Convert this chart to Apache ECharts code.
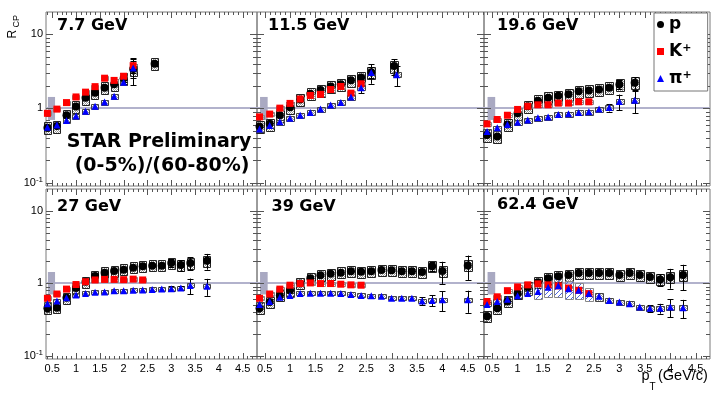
<!DOCTYPE html>
<html>
<head>
<meta charset="utf-8">
<script src="https://cdn.jsdelivr.net/npm/echarts@6.0.0/dist/echarts.min.js"></script>
<style>
html, body { margin: 0; padding: 0; background: #fff; }
#chart { width: 716px; height: 397px; }
</style>
</head>
<body>
<div id="chart"></div>
<script>
// pT bin centres (GeV/c)
var ptK = [0.4, 0.6, 0.8, 1.0, 1.2, 1.4, 1.6, 1.8, 2.0, 2.2, 2.4];
var pt77 = [0.4, 0.6, 0.8, 1.0, 1.2, 1.4, 1.6, 1.8, 2.0, 2.2];
var pt77P = [0.4, 0.6, 0.8, 1.0, 1.2, 1.4, 1.6, 1.8, 2.0, 2.2, 2.65];
var pt115P = [0.4, 0.6, 0.8, 1.0, 1.2, 1.4, 1.6, 1.8, 2.0, 2.2, 2.4, 2.6, 3.05];
var pt115Pi = [0.4, 0.6, 0.8, 1.0, 1.2, 1.4, 1.6, 1.8, 2.0, 2.2, 2.4, 2.6, 3.1];
var pt196 = [0.4, 0.6, 0.8, 1.0, 1.2, 1.4, 1.6, 1.8, 2.0, 2.2, 2.4, 2.6, 2.8, 3.0, 3.3];
var pt27 = [0.4, 0.6, 0.8, 1.0, 1.2, 1.4, 1.6, 1.8, 2.0, 2.2, 2.4, 2.6, 2.8, 3.0, 3.2, 3.4, 3.75];
var pt39 = [0.4, 0.6, 0.8, 1.0, 1.2, 1.4, 1.6, 1.8, 2.0, 2.2, 2.4, 2.6, 2.8, 3.0, 3.2, 3.4, 3.6, 3.8, 4.0, 4.5];
var pt624 = [0.4, 0.6, 0.8, 1.0, 1.2, 1.4, 1.6, 1.8, 2.0, 2.2, 2.4, 2.6, 2.8, 3.0, 3.2, 3.4, 3.6, 3.8, 4.0, 4.25];

// R_CP values and stat errors
var p77 = [0.55, 0.58, 0.81, 1.06, 1.39, 1.63, 1.91, 2.12, 2.55, 3.41, 4.02];
var p77Err = [0, 0, 0, 0, 0, 0, 0, 0, 0.3, 1.35, 0.3];
var k77 = [0.86, 0.98, 1.20, 1.43, 1.66, 1.97, 2.56, 2.39, 2.72, 3.78];
var k77Err = [0, 0, 0, 0, 0, 0, 0, 0, 0.2, 0.8];
var pi77 = [0.56, 0.60, 0.69, 0.79, 0.92, 1.07, 1.22, 1.46, 2.26, 3.5];
var pi77Err = [0, 0, 0, 0, 0, 0, 0, 0, 0.15, 0.9];

var p115 = [0.57, 0.62, 0.81, 1.04, 1.32, 1.58, 1.77, 1.98, 2.12, 2.40, 2.62, 3.08, 3.74];
var p115Err = [0, 0, 0, 0, 0, 0, 0, 0, 0, 0, 0.2, 0.5, 0.9];
var k115 = [0.77, 0.84, 1.01, 1.17, 1.34, 1.50, 1.55, 1.80, 1.98, 1.61, 2.15];
var k115Err = [0, 0, 0, 0, 0, 0, 0, 0, 0, 0, 0.15];
var pi115 = [0.53, 0.59, 0.66, 0.74, 0.81, 0.88, 0.98, 1.11, 1.20, 1.43, 1.91, 3.05, 2.86];
var pi115Err = [0, 0, 0, 0, 0, 0, 0, 0, 0, 0, 0.3, 0.9, 0.85];

var p196 = [0.44, 0.42, 0.61, 0.86, 1.07, 1.27, 1.40, 1.48, 1.56, 1.71, 1.75, 1.80, 1.91, 2.11, 2.22];
var p196Err = [0, 0, 0, 0, 0, 0, 0, 0, 0, 0, 0, 0, 0.15, 0.3, 0.42];
var k196 = [0.62, 0.71, 0.81, 0.97, 1.07, 1.12, 1.12, 1.18, 1.18, 1.23, 1.23];
var k196Err = [0, 0, 0, 0, 0, 0, 0, 0, 0, 0, 0];
var pi196 = [0.49, 0.55, 0.61, 0.65, 0.70, 0.75, 0.77, 0.83, 0.85, 0.88, 0.90, 0.98, 1.03, 1.24, 1.29];
var pi196Err = [0, 0, 0, 0, 0, 0, 0, 0, 0, 0, 0, 0, 0.12, 0.3, 0.43];

var p27 = [0.45, 0.46, 0.63, 0.86, 1.05, 1.26, 1.40, 1.48, 1.54, 1.64, 1.71, 1.75, 1.75, 1.90, 1.78, 1.90, 2.04];
var p27Err = [0, 0, 0, 0, 0, 0, 0, 0, 0, 0, 0, 0, 0, 0.25, 0.3, 0.4, 0.5];
var k27 = [0.62, 0.71, 0.83, 0.96, 1.05, 1.11, 1.13, 1.13, 1.12, 1.14, 1.11];
var k27Err = [0, 0, 0, 0, 0, 0, 0, 0, 0, 0, 0];
var pi27 = [0.52, 0.57, 0.63, 0.69, 0.72, 0.75, 0.76, 0.79, 0.79, 0.80, 0.81, 0.82, 0.83, 0.84, 0.86, 0.93, 0.91];
var pi27Err = [0, 0, 0, 0, 0, 0, 0, 0, 0, 0, 0, 0, 0, 0.07, 0.06, 0.23, 0.24];

var p39 = [0.45, 0.55, 0.68, 0.80, 0.99, 1.17, 1.29, 1.35, 1.40, 1.46, 1.44, 1.46, 1.52, 1.51, 1.46, 1.47, 1.43, 1.72, 1.48, 1.76];
var p39Err = [0, 0, 0, 0, 0, 0, 0, 0, 0, 0, 0, 0, 0, 0, 0, 0, 0.1, 0.25, 0.5, 0.65];
var k39 = [0.62, 0.71, 0.83, 0.94, 0.99, 1.01, 0.99, 0.99, 0.97, 0.95, 0.94];
var k39Err = [0, 0, 0, 0, 0, 0, 0, 0, 0, 0, 0];
var pi39 = [0.51, 0.56, 0.64, 0.68, 0.72, 0.73, 0.73, 0.73, 0.72, 0.70, 0.68, 0.67, 0.66, 0.62, 0.62, 0.62, 0.57, 0.58, 0.59, 0.59];
var pi39Err = [0, 0, 0, 0, 0, 0, 0, 0, 0, 0, 0, 0, 0, 0, 0, 0, 0.07, 0.1, 0.18, 0.2];

var p624 = [0.35, 0.45, 0.56, 0.72, 0.88, 1.03, 1.17, 1.25, 1.30, 1.38, 1.38, 1.38, 1.39, 1.30, 1.38, 1.30, 1.22, 1.13, 1.21, 1.30];
var p624Err = [0, 0, 0, 0, 0, 0, 0, 0, 0, 0, 0, 0, 0, 0, 0, 0, 0, 0.2, 0.37, 0.5];
var k624 = [0.56, 0.65, 0.79, 0.89, 0.95, 0.98, 0.95, 0.92, 0.86, 0.80, 0.72];
var k624Err = [0, 0, 0, 0, 0, 0, 0, 0, 0, 0, 0];
var pi624 = [0.51, 0.56, 0.60, 0.67, 0.72, 0.77, 0.88, 0.92, 0.84, 0.80, 0.72, 0.66, 0.58, 0.55, 0.52, 0.47, 0.45, 0.45, 0.47, 0.46];
var pi624Err = [0, 0, 0, 0, 0, 0, 0, 0, 0, 0, 0, 0, 0, 0, 0, 0, 0.05, 0.07, 0.13, 0.13];
var pi624Sys = [0.07, 0.07, 0.07, 0.07, 0.07, 0.2, 0.27, 0.3, 0.28, 0.25, 0.2, 0.12, 0.08, 0.08, 0.08, 0.08, 0.08, 0.08, 0.08, 0.08];

// relative systematic errors (boxes)
var P_SYS = 0.18, K_SYS = 0.06, PI_SYS = 0.07;
// normalisation uncertainty box
var NORM_X = [0.41, 0.56], NORM_Y = [0.7, 1.43];

var panels = [
  { name: '7.7 GeV', p: [pt77P, p77, p77Err], k: [pt77, k77, k77Err], pi: [pt77, pi77, pi77Err] },
  { name: '11.5 GeV', p: [pt115P, p115, p115Err], k: [ptK, k115, k115Err], pi: [pt115Pi, pi115, pi115Err] },
  { name: '19.6 GeV', p: [pt196, p196, p196Err], k: [ptK, k196, k196Err], pi: [pt196, pi196, pi196Err] },
  { name: '27 GeV', p: [pt27, p27, p27Err], k: [ptK, k27, k27Err], pi: [pt27, pi27, pi27Err] },
  { name: '39 GeV', p: [pt39, p39, p39Err], k: [ptK, k39, k39Err], pi: [pt39, pi39, pi39Err] },
  { name: '62.4 GeV', p: [pt624, p624, p624Err], k: [ptK, k624, k624Err], pi: [pt624, pi624, pi624Err], piSys: pi624Sys }
];

var colX = [[46, 257], [257, 484], [484, 710]];
var rowY = [[12, 186], [189, 359]];
var colRange = [[0.37, 4.8], [0.35, 4.82], [0.34, 4.78]];
var labelPos = [[57, 26], [268, 26], [497, 26], [57, 206.5], [271.5, 206.5], [497, 205]];

function makeStipple() {
  var c = document.createElement('canvas');
  c.width = 4; c.height = 4;
  var g = c.getContext('2d');
  g.fillStyle = '#9a9a9a';
  for (var i = 0; i < 4; i++) for (var j = 0; j < 4; j++) if ((i + j) % 2 === 0) g.fillRect(i, j, 1, 1);
  return { image: c, repeat: 'repeat' };
}
function makeHatch() {
  var c = document.createElement('canvas');
  c.width = 5; c.height = 5;
  var g = c.getContext('2d');
  g.strokeStyle = '#4f66dc';
  g.lineWidth = 1;
  g.beginPath();
  g.moveTo(-1, 6); g.lineTo(6, -1);
  g.moveTo(-1, 1); g.lineTo(1, -1);
  g.moveTo(4, 6); g.lineTo(6, 4);
  g.stroke();
  return { image: c, repeat: 'repeat' };
}
var stipple = makeStipple();
var hatch = makeHatch();

var BOX_HALF = 0.075;
function boxRenderer(stroke, hatchAbove) {
  return function (params, api) {
    var x = api.value(0), y = api.value(1), s = api.value(2);
    if (!s) return;
    var a = api.coord([x - BOX_HALF, y * (1 + s)]);
    var b = api.coord([x + BOX_HALF, y * (1 - s)]);
    var useHatch = hatchAbove && s >= hatchAbove;
    return {
      type: 'rect',
      shape: { x: Math.round(a[0]) + 0.5, y: Math.round(a[1]) + 0.5, width: Math.round(b[0] - a[0]), height: Math.round(b[1] - a[1]) },
      style: { fill: useHatch ? hatch : stipple, stroke: useHatch ? '#888' : stroke, lineWidth: 1 }
    };
  };
}

function errRenderer(params, api) {
  var x = api.value(0), y = api.value(1), e = api.value(3);
  if (!e) return;
  var top = api.coord([x, y + e]);
  var bot = api.coord([x, Math.max(y - e, 0.1)]);
  var px = Math.round(top[0]) + 0.5;
  var st = { stroke: '#000', lineWidth: 1 };
  return {
    type: 'group',
    children: [
      { type: 'line', shape: { x1: px, y1: top[1], x2: px, y2: bot[1] }, style: st },
      { type: 'line', shape: { x1: px - 3, y1: Math.round(top[1]) + 0.5, x2: px + 3, y2: Math.round(top[1]) + 0.5 }, style: st },
      { type: 'line', shape: { x1: px - 3, y1: Math.round(bot[1]) + 0.5, x2: px + 3, y2: Math.round(bot[1]) + 0.5 }, style: st }
    ]
  };
}

function refRenderer(params, api) {
  var cs = params.coordSys;
  var a = api.coord([NORM_X[0], NORM_Y[1]]);
  var b = api.coord([NORM_X[1], NORM_Y[0]]);
  var y1 = Math.round(api.coord([1, 1])[1]);
  return {
    type: 'group',
    children: [
      { type: 'line', shape: { x1: cs.x, y1: y1, x2: cs.x + cs.width, y2: y1 }, style: { stroke: '#b2b2cc', lineWidth: 2 } },
      { type: 'rect', shape: { x: a[0], y: a[1], width: b[0] - a[0], height: b[1] - a[1] }, style: { fill: '#a9a9c2' } }
    ]
  };
}

// tick positions (axis decoration)
var xTicks = [];
for (var t = 4; t <= 48; t++) xTicks.push(t / 10);
var yTicks = [];
[0.1, 1, 10].forEach(function (d) { for (var m = 1; m <= 9; m++) yTicks.push(m * d); });

function ticksRenderer(params, api) {
  var cs = params.coordSys;
  var x0 = cs.x, x1 = cs.x + cs.width, y0 = cs.y, y1 = cs.y + cs.height;
  var kids = [];
  var st = { stroke: '#555', lineWidth: 1 };
  xTicks.forEach(function (v) {
    var px = api.coord([v, 1])[0];
    if (px <= x0 + 1 || px >= x1 - 1) return;
    px = Math.round(px) + 0.5;
    var len = (Math.round(v * 10) % 5 === 0) ? 6 : 3;
    kids.push({ type: 'line', shape: { x1: px, y1: y1, x2: px, y2: y1 - len }, style: st });
    kids.push({ type: 'line', shape: { x1: px, y1: y0, x2: px, y2: y0 + len }, style: st });
  });
  yTicks.forEach(function (v) {
    var py = api.coord([1, v])[1];
    if (py <= y0 + 1 || py >= y1 - 1) return;
    py = Math.round(py) + 0.5;
    var major = Math.abs(Math.log10(v) - Math.round(Math.log10(v))) < 1e-6;
    var len = major ? 7 : 4;
    kids.push({ type: 'line', shape: { x1: x0, y1: py, x2: x0 + len, y2: py }, style: st });
    kids.push({ type: 'line', shape: { x1: x1, y1: py, x2: x1 - len, y2: py }, style: st });
  });
  return { type: 'group', children: kids };
}

function rowsOf(set, sys) {
  var pt = set[0], val = set[1], err = set[2];
  return pt.map(function (x, i) {
    return [x, val[i], Array.isArray(sys) ? sys[i] : sys, err[i]];
  });
}

var grids = [], xAxes = [], yAxes = [], series = [], graphics = [];

panels.forEach(function (pn, g) {
  var col = g % 3, row = Math.floor(g / 3);
  grids.push({
    left: colX[col][0], width: colX[col][1] - colX[col][0],
    top: rowY[row][0], height: rowY[row][1] - rowY[row][0],
    show: true, borderColor: '#7a7a7a', borderWidth: 1, backgroundColor: 'transparent'
  });
  xAxes.push({
    gridIndex: g, type: 'value', min: colRange[col][0], max: colRange[col][1], splitNumber: 9,
    axisLine: { show: false }, axisTick: { show: false }, splitLine: { show: false },
    axisLabel: {
      show: row === 1, showMinLabel: false, showMaxLabel: false, margin: 4,
      fontSize: 11, fontFamily: 'Liberation Sans', color: '#000'
    }
  });
  yAxes.push({
    gridIndex: g, type: 'log', logBase: 10, min: 0.09, max: 20,
    axisLine: { show: false }, axisTick: { show: false }, splitLine: { show: false },
    axisLabel: {
      show: col === 0, showMinLabel: false, showMaxLabel: false, margin: 3,
      fontSize: 11, fontFamily: 'Liberation Sans', color: '#000', lineHeight: 14,
      formatter: function (v) {
        var l = Math.log10(v), e = Math.round(l);
        if (Math.abs(l - e) > 1e-6) return '';
        return e === 1 ? '10' : e === 0 ? '1' : '10{sup|-1}';
      },
      rich: { sup: { fontSize: 8, fontFamily: 'Liberation Sans', color: '#000', lineHeight: 8, verticalAlign: 'top' } }
    }
  });

  var base = { xAxisIndex: g, yAxisIndex: g, silent: true, encode: { x: 0, y: 1 } };
  series.push(Object.assign({ type: 'custom', renderItem: refRenderer, data: [[1, 1]] }, base));
  series.push(Object.assign({ type: 'custom', renderItem: boxRenderer('#222', 0), data: rowsOf(pn.p, P_SYS) }, base));
  series.push(Object.assign({ type: 'custom', renderItem: boxRenderer('#888', 0), data: rowsOf(pn.k, K_SYS) }, base));
  series.push(Object.assign({ type: 'custom', renderItem: boxRenderer('#444', 0.15), data: rowsOf(pn.pi, pn.piSys || PI_SYS) }, base));
  series.push(Object.assign({ type: 'custom', renderItem: errRenderer,
    data: rowsOf(pn.p, 0).concat(rowsOf(pn.k, 0), rowsOf(pn.pi, 0)) }, base));
  series.push(Object.assign({ type: 'scatter', name: 'p', symbol: 'circle', symbolSize: 8, itemStyle: { color: '#000', opacity: 1 },
    data: pn.p[0].map(function (x, i) { return [x, pn.p[1][i]]; }) }, base));
  series.push(Object.assign({ type: 'scatter', name: 'K+', symbol: 'rect', symbolSize: 7, itemStyle: { color: '#ff0000', opacity: 1 },
    data: pn.k[0].map(function (x, i) { return [x, pn.k[1][i]]; }) }, base));
  series.push(Object.assign({ type: 'scatter', name: 'pi+', symbol: 'triangle', symbolSize: 7, itemStyle: { color: '#0000ff', opacity: 1 },
    data: pn.pi[0].map(function (x, i) { return [x, pn.pi[1][i]]; }) }, base));
  series.push(Object.assign({ type: 'custom', renderItem: ticksRenderer, data: [[1, 1]] }, base));

  graphics.push({
    type: 'text', x: labelPos[g][0], y: labelPos[g][1],
    style: { text: pn.name, fontSize: 16, fontWeight: 'bold', fontFamily: 'DejaVu Sans', fill: '#000', align: 'left', verticalAlign: 'middle' }
  });
});

graphics.push(
  { type: 'text', x: 251.5, y: 142.5, style: { text: 'STAR Preliminary', fontSize: 19, fontWeight: 'bold', fontFamily: 'DejaVu Sans', fill: '#000', align: 'right', verticalAlign: 'middle' } },
  { type: 'text', x: 249.5, y: 166.5, style: { text: '(0-5%)/(60-80%)', fontSize: 19, fontWeight: 'bold', fontFamily: 'DejaVu Sans', fill: '#000', align: 'right', verticalAlign: 'middle' } },
  { type: 'text', x: 13, y: 38.5, rotation: Math.PI / 2, style: { text: 'R', fontSize: 12, fontFamily: 'Liberation Sans', fill: '#000', align: 'left', verticalAlign: 'middle' } },
  { type: 'text', x: 16.5, y: 27.5, rotation: Math.PI / 2, style: { text: 'CP', fontSize: 9, fontFamily: 'Liberation Sans', fill: '#000', align: 'left', verticalAlign: 'middle' } },
  { type: 'text', x: 641.5, y: 376, style: { text: 'p', fontSize: 14.5, fontFamily: 'Liberation Sans', fill: '#000', align: 'left', verticalAlign: 'middle' } },
  { type: 'text', x: 649.5, y: 387.5, style: { text: 'T', fontSize: 10, fontFamily: 'Liberation Sans', fill: '#000', align: 'left', verticalAlign: 'middle' } },
  { type: 'text', x: 658, y: 376, style: { text: '(GeV/c)', fontSize: 14.5, fontFamily: 'Liberation Sans', fill: '#000', align: 'left', verticalAlign: 'middle' } }
);

var chart = echarts.init(document.getElementById('chart'));
chart.setOption({
  animation: false,
  backgroundColor: '#fff',
  textStyle: { fontFamily: 'Liberation Sans' },
  grid: grids,
  xAxis: xAxes,
  yAxis: yAxes,
  legend: {
    orient: 'vertical', left: 654, top: 13, padding: [3, 16, 4, 3], itemGap: 10,
    itemWidth: 7, itemHeight: 7, borderColor: '#777', borderWidth: 1, backgroundColor: '#fff',
    selectedMode: false,
    data: [{ name: 'p', icon: 'circle' }, { name: 'K+', icon: 'rect' }, { name: 'pi+', icon: 'triangle' }],
    formatter: function (n) { return n === 'p' ? '{b|p}' : n === 'K+' ? '{b|K}{s|+}' : '{b|π}{s|+}'; },
    textStyle: {
      rich: {
        b: { fontSize: 17, fontWeight: 'bold', fontFamily: 'DejaVu Sans', lineHeight: 17, color: '#000' },
        s: { fontSize: 11, fontWeight: 'bold', fontFamily: 'DejaVu Sans', lineHeight: 9, verticalAlign: 'top', color: '#000' }
      }
    }
  },
  graphic: graphics,
  series: series
});
</script>
</body>
</html>
